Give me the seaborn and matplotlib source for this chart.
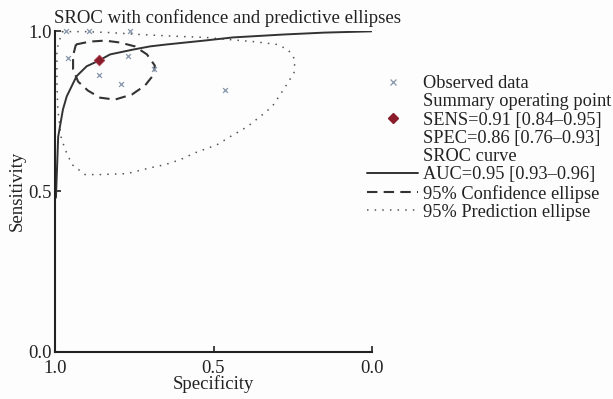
import matplotlib
matplotlib.use("Agg")
import matplotlib.pyplot as plt
import seaborn as sns
import pandas as pd
from matplotlib.lines import Line2D

# ---- data ----
obs_spec = [0.965, 0.893, 0.763, 0.960, 0.771, 0.687, 0.860, 0.792, 0.464]
obs_sens = [1.000, 1.000, 1.000, 0.915, 0.923, 0.880, 0.862, 0.835, 0.815]

summary_spec = [0.86]
summary_sens = [0.91]

sroc_spec = [0.997, 0.990, 0.975, 0.963, 0.932, 0.900, 0.865, 0.826, 0.754,
             0.700, 0.648, 0.530, 0.438, 0.385, 0.280, 0.150, 0.000]
sroc_sens = [0.480, 0.670, 0.755, 0.796, 0.859, 0.890, 0.906, 0.927, 0.942,
             0.952, 0.958, 0.970, 0.980, 0.983, 0.989, 0.995, 0.999]

conf_spec = [0.934, 0.890, 0.842, 0.795, 0.748, 0.710, 0.685, 0.691, 0.716,
             0.757, 0.811, 0.858, 0.896, 0.927, 0.943, 0.943, 0.934]
conf_sens = [0.958, 0.967, 0.970, 0.964, 0.952, 0.927, 0.892, 0.861, 0.830,
             0.802, 0.786, 0.792, 0.814, 0.842, 0.880, 0.923, 0.958]

pred_spec = [0.978, 0.905, 0.826, 0.732, 0.606, 0.527, 0.448, 0.375, 0.300,
             0.265, 0.243, 0.246, 0.265, 0.290, 0.315, 0.353, 0.394, 0.448,
             0.489, 0.558, 0.606, 0.653, 0.700, 0.773, 0.858, 0.905, 0.946,
             0.968, 0.981, 0.991, 0.994, 0.994, 0.978]
pred_sens = [0.998, 0.998, 0.995, 0.989, 0.983, 0.980, 0.973, 0.967, 0.958,
             0.942, 0.911, 0.870, 0.839, 0.801, 0.764, 0.733, 0.701, 0.670,
             0.645, 0.620, 0.598, 0.583, 0.573, 0.555, 0.552, 0.552, 0.583,
             0.630, 0.670, 0.755, 0.839, 0.942, 0.998]

title = "SROC with confidence and predictive ellipses"
legend_labels = ["Observed data", "Summary operating point",
                 "SENS=0.91 [0.84\u20130.95]", "SPEC=0.86 [0.76\u20130.93]",
                 "SROC curve", "AUC=0.95 [0.93\u20130.96]",
                 "95% Confidence ellipse", "95% Prediction ellipse"]
ticks = [0.0, 0.5, 1.0]
tick_labels = ["0.0", "0.5", "1.0"]

# ---- style ----
sns.set_theme(style="white")
plt.rcParams["font.family"] = ["Liberation Serif", "DejaVu Serif"]
FS = 13.5
FS_LEG = 13.2
FS_TITLE = 13.5
INK = "#222222"

fig = plt.figure(figsize=(6.13, 3.99), dpi=100)
ax = fig.add_axes([55 / 613, 1 - 351.5 / 399, 317 / 613, 320.5 / 399])

obs_df = pd.DataFrame({"spec": obs_spec, "sens": obs_sens})
sroc_df = pd.DataFrame({"spec": sroc_spec, "sens": sroc_sens})
conf_df = pd.DataFrame({"spec": conf_spec, "sens": conf_sens})
pred_df = pd.DataFrame({"spec": pred_spec, "sens": pred_sens})
sum_df = pd.DataFrame({"spec": summary_spec, "sens": summary_sens})

sns.lineplot(data=pred_df, x="spec", y="sens", sort=False, estimator=None, ax=ax,
             color="#555555", linewidth=1.1, linestyle=(0, (1, 4)), clip_on=False)
sns.lineplot(data=conf_df, x="spec", y="sens", sort=False, estimator=None, ax=ax,
             color="#333333", linewidth=1.5, linestyle=(0, (5, 3)))
sns.lineplot(data=sroc_df, x="spec", y="sens", sort=False, estimator=None, ax=ax,
             color="#333333", linewidth=1.4)
sns.scatterplot(data=obs_df, x="spec", y="sens", ax=ax, marker="x", s=12,
                color="#8595ab", linewidth=0.9, zorder=5, clip_on=False)
sns.scatterplot(data=sum_df, x="spec", y="sens", ax=ax, marker="D", s=30,
                color="#8b1c2c", edgecolor="#b04050", linewidth=0.5, zorder=6)

ax.set_xlim(1.0, 0.0)
ax.set_ylim(0.0, 1.0)
ax.set_xticks(ticks)
ax.set_xticklabels(tick_labels)
ax.set_yticks(ticks)
ax.set_yticklabels(tick_labels)
ax.tick_params(axis="both", direction="in", length=4, width=1.2, color=INK,
               labelsize=FS, bottom=True, left=True, labelcolor=INK)
ax.tick_params(axis="x", pad=6)
ax.tick_params(axis="y", pad=2)
ax.set_xlabel("Specificity", fontsize=FS, labelpad=-1, color=INK)
ax.set_ylabel("Sensitivity", fontsize=FS, labelpad=2, color=INK)
for side in ["top", "right"]:
    ax.spines[side].set_visible(False)
for side in ["left", "bottom"]:
    ax.spines[side].set_color(INK)
    ax.spines[side].set_linewidth(1.5)

fig.text(54 / 613, 1 - 18 / 399, title, fontsize=FS_TITLE, va="center", ha="left",
         color=INK)

# ---- legend ----
blank = Line2D([], [], linestyle="none", marker=None)
handles = [
    Line2D([], [], linestyle="none", marker="x", color="#8595ab", markersize=4,
           markeredgewidth=0.9),
    blank,
    Line2D([], [], linestyle="none", marker="D", color="#8b1c2c", markersize=5),
    blank,
    blank,
    Line2D([], [], color="#333333", linewidth=1.4),
    Line2D([], [], color="#333333", linewidth=1.5, linestyle=(0, (5, 3))),
    Line2D([], [], color="#555555", linewidth=1.1, linestyle=(0, (1, 4))),
]
fig.legend(handles, legend_labels, loc="upper left",
           bbox_to_anchor=(367 / 613, 1 - 75 / 399), frameon=False,
           fontsize=FS_LEG, handlelength=2.8, handletextpad=0.27, labelspacing=0.07,
           borderpad=0, borderaxespad=0, labelcolor=INK)

fig.patch.set_facecolor("#fdfdfd")
ax.set_facecolor("#fdfdfd")
fig.savefig("out.png", dpi=100, facecolor=fig.get_facecolor())
